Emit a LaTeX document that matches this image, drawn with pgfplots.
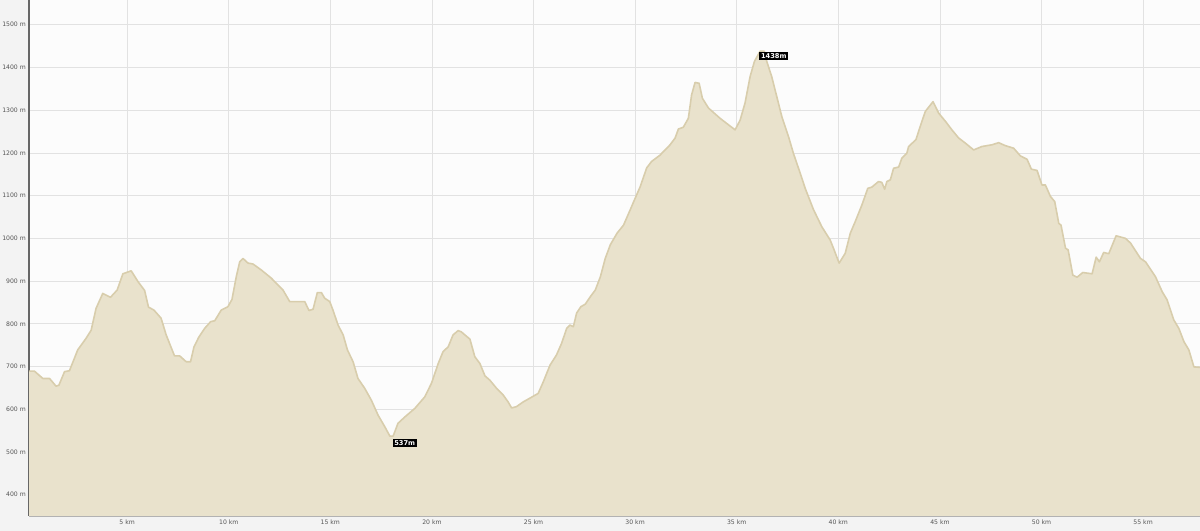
\documentclass[border=0pt]{standalone}
\usepackage{pgfplots}
\pgfplotsset{compat=1.18}
\usepackage{pgfplotstable}
\usepackage{fontspec}
\setmainfont{DejaVu Sans}

\definecolor{areafill}{HTML}{E9E2CC}
\definecolor{arealine}{HTML}{D8CDAC}
\definecolor{plotbg}{HTML}{FCFCFC}
\definecolor{outerbg}{HTML}{F3F3F3}
\definecolor{gridc}{HTML}{E2E2E2}
\definecolor{ticktext}{HTML}{555555}

% elevation profile: distance (km), altitude (m)
\pgfplotstableread{
km    m
0.17  689
0.44  689
0.85  672
1.18  672
1.50  654
1.64  656
1.92  688
2.16  690
2.57  739
2.98  766
3.23  785
3.47  836
3.80  871
4.18  862
4.51  879
4.79  917
5.20  924
5.53  899
5.86  878
6.05  839
6.32  832
6.67  813
6.92  774
7.33  725
7.58  725
7.91  711
8.12  711
8.29  746
8.52  768
8.81  789
9.11  805
9.31  807
9.63  832
9.96  840
10.16 857
10.37 910
10.54 945
10.70 953
10.95 942
11.19 940
11.60 926
12.09 907
12.67 879
13.00 852
13.74 852
13.95 831
14.15 834
14.36 873
14.56 873
14.72 860
14.97 852
15.13 832
15.38 797
15.63 774
15.84 739
16.12 711
16.36 672
16.69 649
17.02 621
17.35 586
17.68 559
17.93 537
18.09 537
18.33 567
18.67 582
19.16 602
19.65 629
19.98 661
20.31 707
20.55 735
20.80 746
21.04 774
21.29 784
21.45 781
21.62 774
21.87 764
22.11 723
22.36 707
22.61 678
22.85 668
23.18 649
23.51 633
23.75 617
23.92 603
24.16 606
24.49 617
24.90 628
25.23 637
25.48 664
25.81 703
26.13 727
26.38 754
26.63 789
26.79 797
26.96 793
27.12 825
27.33 840
27.55 846
27.79 863
28.04 879
28.29 910
28.53 953
28.78 985
29.11 1012
29.43 1031
29.76 1067
29.93 1086
30.25 1121
30.57 1165
30.81 1180
31.23 1195
31.47 1207
31.72 1219
31.97 1235
32.13 1256
32.37 1260
32.62 1281
32.78 1336
32.95 1365
33.15 1363
33.31 1328
33.61 1305
33.85 1295
34.18 1281
34.59 1266
34.92 1254
35.17 1277
35.41 1317
35.66 1379
35.87 1414
36.15 1438
36.36 1438
36.48 1414
36.72 1379
36.97 1332
37.22 1285
37.55 1238
37.79 1199
38.12 1153
38.37 1117
38.78 1067
39.19 1027
39.60 996
39.76 977
40.04 942
40.34 965
40.59 1012
40.83 1039
41.16 1078
41.45 1117
41.65 1120
41.98 1133
42.14 1131
42.28 1115
42.39 1133
42.56 1137
42.72 1164
42.97 1167
43.13 1188
43.37 1199
43.46 1215
43.82 1231
44.03 1262
44.28 1297
44.66 1320
44.94 1293
45.27 1274
45.59 1254
45.92 1235
46.25 1223
46.66 1207
47.07 1215
47.56 1219
47.89 1224
48.22 1217
48.63 1211
48.96 1193
49.29 1185
49.50 1162
49.78 1159
50.02 1125
50.19 1125
50.44 1098
50.65 1086
50.85 1035
50.96 1031
51.18 977
51.31 973
51.54 914
51.75 909
52.03 920
52.49 917
52.69 956
52.85 945
53.06 967
53.31 964
53.67 1006
54.13 1000
54.38 989
54.87 953
55.12 945
55.61 910
55.94 875
56.18 856
56.51 809
56.76 789
57.01 758
57.25 739
57.50 699
57.80 698
}\profile

\begin{document}
\begin{tikzpicture}
\fill[outerbg] (-21.75pt,-11.25pt) rectangle (878.25pt,387pt);
\path[use as bounding box] (-21.75pt,-11.25pt) rectangle (878.25pt,387pt);
\begin{axis}[
  at={(0pt,0pt)}, anchor=south west,
  scale only axis,
  width=878.25pt, height=387pt,
  xmin=0.17, xmax=57.8,
  ymin=350, ymax=1558,
  axis background/.style={fill=plotbg},
  xtick={5,10,...,55},
  ytick={400,500,...,1500},
  xticklabel={\pgfmathprintnumber{\tick}~km},
  yticklabel={\pgfmathprintnumber{\tick}~m},
  /pgf/number format/1000 sep={},
  /pgf/number format/assume math mode=true,
  major tick length=0pt,
  grid=major,
  major grid style={gridc, line width=0.6pt},
  axis x line*=bottom,
  axis y line*=left,
  x axis line style={draw=black!30, line width=0.8pt, -},
  y axis line style={draw=black!60, line width=1.3pt, -},
  ticklabel style={font=\fontsize{4.6}{5.5}\selectfont, text=ticktext, inner sep=0pt},
  xticklabel style={anchor=north, yshift=-2.8pt},
  yticklabel style={anchor=east, xshift=-2.2pt},
  clip=true,
]
\addplot[fill=areafill, draw=none] table[x=km, y=m] {\profile} \closedcycle;
\addplot[draw=arealine, line width=1.2pt, line join=round] table[x=km, y=m] {\profile};
\node[anchor=north west, fill=black, text=white, inner sep=1.3pt,
  font=\fontsize{5}{6}\selectfont\bfseries] at (axis cs:36.1,1438) {1438m};
\node[anchor=north west, fill=black, text=white, inner sep=1.3pt,
  font=\fontsize{5}{6}\selectfont\bfseries] at (axis cs:18.05,531) {537m};
\end{axis}
\end{tikzpicture}
\end{document}
